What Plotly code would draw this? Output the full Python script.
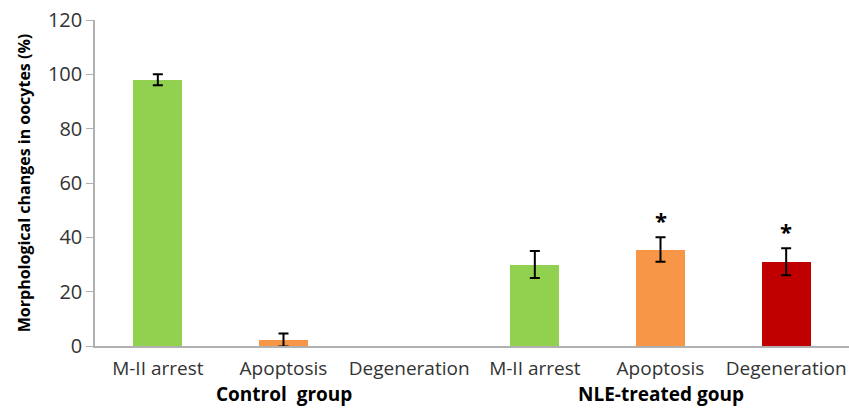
import plotly.graph_objects as go

categories = ["M-II arrest", "Apoptosis", "Degeneration", "M-II arrest", "Apoptosis", "Degeneration"]
values = [98, 2.2, 0, 30, 35.5, 31]
errors = [2, 2.4, 0, 5, 4.5, 5]
colors = ["#92d050", "#f79646", "#c00000", "#92d050", "#f79646", "#c00000"]
marks = ["", "", "", "", "*", "*"]
groups = ["Control  group", "NLE-treated goup"]
group_centers = [1, 4]
yticks = [0, 20, 40, 60, 80, 100, 120]

xpos = list(range(len(categories)))
FONT = "Open Sans"

fig = go.Figure()
fig.add_trace(go.Bar(
    x=xpos, y=values,
    marker=dict(color=colors, line=dict(width=0)),
    width=0.39,
))
err_idx = [i for i, e in enumerate(errors) if e > 0]
fig.add_trace(go.Scatter(
    x=[xpos[i] for i in err_idx], y=[values[i] for i in err_idx],
    mode="markers", marker=dict(size=1, color="rgba(0,0,0,0)"),
    error_y=dict(type="data", array=[errors[i] for i in err_idx], visible=True,
                 color="#000000", thickness=2, width=5),
    hoverinfo="skip",
))

annotations = []
for i, (v, e, m) in enumerate(zip(values, errors, marks)):
    if m:
        annotations.append(dict(x=i, y=v + e, xref="x", yref="y", text="<b>" + m + "</b>", showarrow=False,
                                font=dict(family=FONT, size=22, color="#000"), yanchor="bottom"))
for g, c in zip(groups, group_centers):
    annotations.append(dict(x=c, y=-0.147, xref="x", yref="paper", text="<b>" + g + "</b>", showarrow=False,
                            font=dict(family=FONT, size=19, color="#000"), yanchor="middle"))

fig.update_layout(
    width=849, height=410,
    margin=dict(l=95, r=0, t=20, b=64, autoexpand=False),
    paper_bgcolor="white", plot_bgcolor="white",
    showlegend=False,
    bargap=0,
    annotations=annotations,
    font=dict(family=FONT, size=18, color="#333"),
)
fig.update_xaxes(
    tickvals=xpos, ticktext=categories, range=[-0.5, 5.5],
    showline=True, linecolor="#b0b0b0", linewidth=1.5, ticks="", showgrid=False,
    tickfont=dict(family=FONT, size=19, color="#333"), zeroline=False, automargin=False,
    ticklabeloverflow="allow", ticklabelstandoff=4,
)
fig.update_yaxes(
    range=[0, 120], tickvals=yticks, showline=True, linecolor="#b0b0b0", linewidth=1.5,
    ticks="outside", ticklen=7, tickcolor="#b0b0b0", showgrid=False, zeroline=False,
    tickfont=dict(family=FONT, size=20, color="#333"), automargin=False,
    ticklabeloverflow="allow",
    title=dict(text="<b>Morphological changes in oocytes (%)</b>", font=dict(family=FONT, size=16, color="#000"), standoff=13),
)
fig.write_html(
    "out.html",
    config={"displayModeBar": False},
    post_script="document.body.style.margin='0';document.body.style.overflow='hidden';",
)
